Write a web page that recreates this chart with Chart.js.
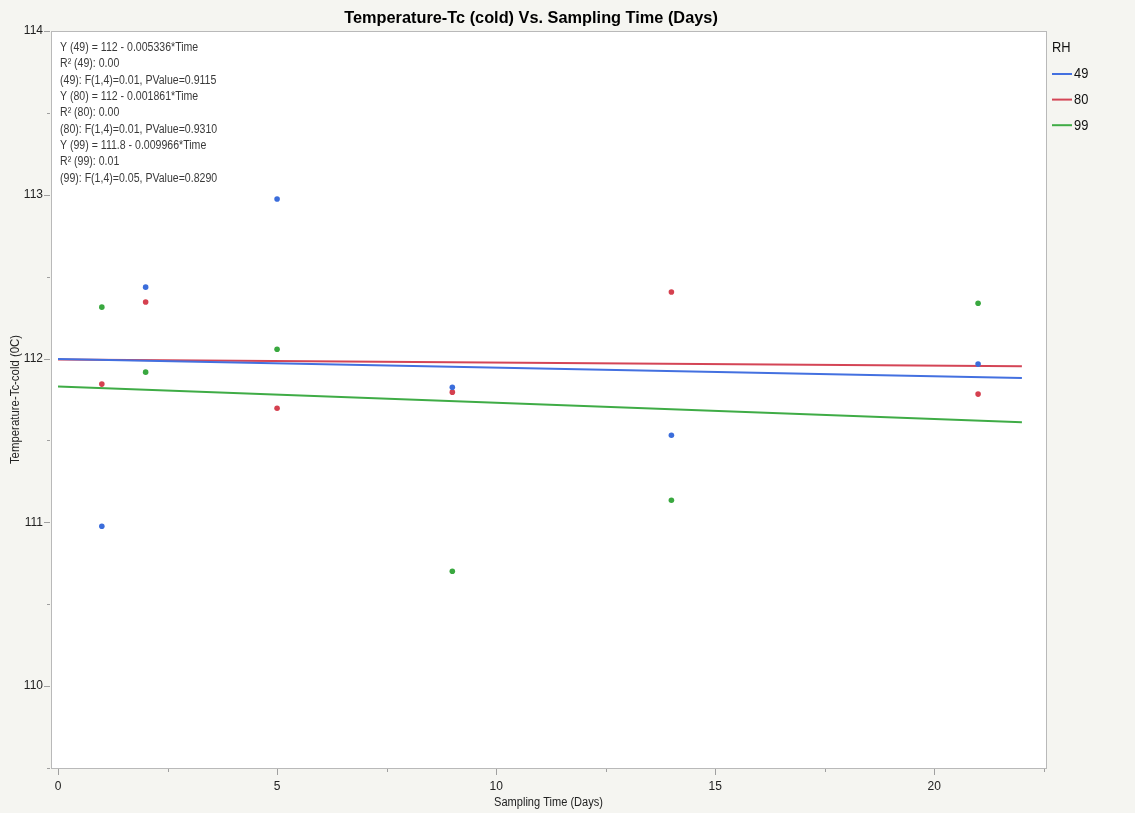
<!DOCTYPE html>
<html>
<head>
<meta charset="utf-8">
<script src="https://cdn.jsdelivr.net/npm/chart.js@4.4.1/dist/chart.umd.min.js"></script>
<style>
  html, body { margin: 0; padding: 0; background: #f5f5f1; }
  #wrap { width: 1135px; height: 813px; }
</style>
</head>
<body>
<div id="wrap"><canvas id="c" width="1135" height="813"></canvas></div>
<script>
// Sampling days and measured cold-crystallisation temperature per RH group
const days = [1, 2, 5, 9, 14, 21];
const rh49 = [110.976, 112.436, 112.974, 111.825, 111.532, 111.966];
const rh80 = [111.844, 112.345, 111.697, 111.795, 112.406, 111.783];
const rh99 = [112.314, 111.917, 112.057, 110.701, 111.135, 112.338];

// Linear fit per group: intercept, slope, R², F, p
const groups = ['49', '80', '99'];
const fitIntercept = [111.998, 111.994, 111.830];
const fitSlope = [-0.005336, -0.001861, -0.009966];
const fitR2 = ['0.00', '0.00', '0.01'];
const fitF = ['0.01', '0.01', '0.05'];
const fitP = ['0.9115', '0.9310', '0.8290'];
const fitRange = [0, 22];

const xTicks = [0, 5, 10, 15, 20];
const yTicks = [110, 111, 112, 113, 114];

const pointColors = ['#3b6ddb', '#d5404f', '#39a83f'];
const lineColors = ['#4370e0', '#d44556', '#3fac46'];

const title = 'Temperature-Tc (cold) Vs. Sampling Time (Days)';
const xTitle = 'Sampling Time (Days)';
const yTitle = 'Temperature-Tc-cold (0C)';
const legendTitle = 'RH';

const series = [rh49, rh80, rh99];

function fmtNum(v) {
  return String(parseFloat(v.toPrecision(4)));
}

const datasets = [];
series.forEach((vals, i) => {
  datasets.push({
    type: 'scatter',
    label: groups[i],
    data: days.map((d, k) => ({ x: d, y: vals[k] })),
    backgroundColor: pointColors[i],
    borderColor: pointColors[i],
    pointRadius: 2.8,
    pointBorderWidth: 0,
    order: 1
  });
});
series.forEach((vals, i) => {
  datasets.push({
    type: 'line',
    label: groups[i] + ' fit',
    data: fitRange.map(x => ({ x: x, y: fitIntercept[i] + fitSlope[i] * x })),
    borderColor: lineColors[i],
    borderWidth: 2,
    pointRadius: 0,
    fill: false,
    order: 2
  });
});

const FONT = "'Liberation Sans', Arial, sans-serif";

// text drawn with a slight horizontal condensing
function narrowText(ctx, text, x, y, sx, align) {
  ctx.save();
  ctx.translate(x, y);
  ctx.scale(sx, 1);
  ctx.textAlign = align;
  ctx.fillText(text, 0, 0);
  ctx.restore();
}

const frame = {
  id: 'frame',
  beforeDatasetsDraw(chart) {
    const { ctx, chartArea: a } = chart;
    ctx.save();
    ctx.fillStyle = '#ffffff';
    ctx.fillRect(a.left, a.top, a.right - a.left, a.bottom - a.top);
    ctx.restore();
  },
  afterDraw(chart) {
    const { ctx, chartArea: a, scales } = chart;
    const xs = scales.x, ys = scales.y;
    ctx.save();
    ctx.strokeStyle = '#b9b9b9';
    ctx.lineWidth = 1;
    ctx.strokeRect(Math.round(a.left) + 0.5, Math.round(a.top) + 0.5,
      Math.round(a.right - a.left), Math.round(a.bottom - a.top));

    // tick marks, major and minor
    ctx.strokeStyle = '#a0a0a0';
    ctx.beginPath();
    for (let v = 0; v <= 22.5; v += 2.5) {
      const px = Math.round(xs.getPixelForValue(v)) + 0.5;
      const len = (v % 5 === 0) ? 6 : 3;
      ctx.moveTo(px, a.bottom + 1);
      ctx.lineTo(px, a.bottom + 1 + len);
    }
    for (let v = 109.5; v <= 114; v += 0.5) {
      const py = Math.round(ys.getPixelForValue(v)) + 0.5;
      const len = (v % 1 === 0) ? 6 : 3;
      ctx.moveTo(a.left - 1, py);
      ctx.lineTo(a.left - 1 - len, py);
    }
    ctx.stroke();

    // tick labels
    ctx.fillStyle = '#222222';
    ctx.font = '12px ' + FONT;
    ctx.textBaseline = 'top';
    xTicks.forEach(v => narrowText(ctx, String(v), xs.getPixelForValue(v), a.bottom + 13, 1, 'center'));
    ctx.textBaseline = 'middle';
    yTicks.forEach(v => narrowText(ctx, String(v), a.left - 8, ys.getPixelForValue(v), 1, 'right'));

    // axis titles
    ctx.textBaseline = 'alphabetic';
    narrowText(ctx, xTitle, (a.left + a.right) / 2, 806, 0.92, 'center');
    ctx.save();
    ctx.translate(19, (a.top + a.bottom) / 2);
    ctx.rotate(-Math.PI / 2);
    narrowText(ctx, yTitle, 0, 0, 0.95, 'center');
    ctx.restore();

    // chart title
    ctx.font = 'bold 17px ' + FONT;
    ctx.fillStyle = '#000000';
    narrowText(ctx, title, 531, 23, 0.96, 'center');

    // fit summary block
    ctx.font = '12px ' + FONT;
    ctx.fillStyle = '#3a3a3a';
    let y = 51;
    groups.forEach((g, i) => {
      const lines = [
        'Y (' + g + ') = ' + fmtNum(fitIntercept[i]) + ' - ' + Math.abs(fitSlope[i]).toFixed(6) + '*Time',
        'R\u00B2 (' + g + '): ' + fitR2[i],
        '(' + g + '): F(1,4)=' + fitF[i] + ', PValue=' + fitP[i]
      ];
      lines.forEach(t => { narrowText(ctx, t, 60, y, 0.88, 'left'); y += 16.35; });
    });

    // legend
    ctx.fillStyle = '#111111';
    ctx.font = '14px ' + FONT;
    narrowText(ctx, legendTitle, 1052, 52, 0.92, 'left');
    groups.forEach((g, i) => {
      const ly = 74 + i * 25.6;
      ctx.strokeStyle = lineColors[i];
      ctx.lineWidth = 2;
      ctx.beginPath();
      ctx.moveTo(1052, ly);
      ctx.lineTo(1072, ly);
      ctx.stroke();
      ctx.fillStyle = '#111111';
      ctx.textBaseline = 'middle';
      narrowText(ctx, g, 1074, ly + 0.5, 0.92, 'left');
      ctx.textBaseline = 'alphabetic';
    });
    ctx.restore();
  }
};

new Chart(document.getElementById('c'), {
  data: { datasets },
  options: {
    responsive: false,
    animation: false,
    layout: { padding: { left: 51, right: 89, top: 31, bottom: 45 } },
    plugins: { legend: { display: false }, tooltip: { enabled: false }, title: { display: false } },
    scales: {
      x: { type: 'linear', min: -0.16, max: 22.55, display: false },
      y: { type: 'linear', min: 109.5, max: 114, display: false }
    }
  },
  plugins: [frame]
});
</script>
</body>
</html>
